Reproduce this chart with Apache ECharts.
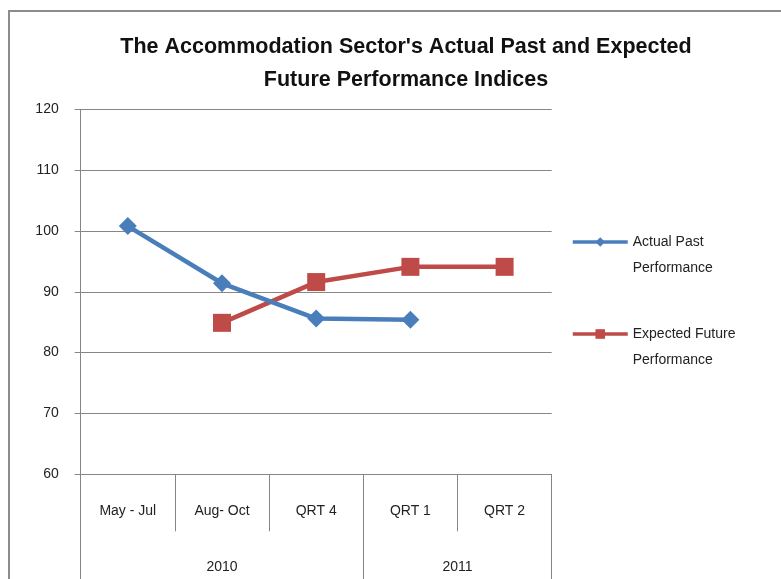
<!DOCTYPE html>
<html>
<head>
<meta charset="utf-8">
<script src="https://cdn.jsdelivr.net/npm/echarts@6/dist/echarts.min.js"></script>
<style>
  html, body { margin: 0; padding: 0; background: #fff; }
  #main { width: 781px; height: 579px; }
</style>
</head>
<body>
<div id="main"></div>
<script>
// categories and year groups
var categories = ['May - Jul', 'Aug- Oct', 'QRT 4', 'QRT 1', 'QRT 2'];
var years = ['2010', '2011'];
var yearSpans = [3, 2];

// series values (null = no point)
var actualPast = [100.8, 91.4, 85.6, 85.4, null];
var expectedFuture = [null, 84.9, 91.6, 94.1, 94.1];

// y axis ticks
var yMin = 60, yMax = 120, yStep = 10;

var seriesNames = ['Actual Past Performance', 'Expected Future Performance'];

// group boundaries and centres from spans
var yearBounds = [0];
var yearCentres = [];
yearSpans.forEach(function (s, i) {
  var start = yearBounds[i];
  yearBounds.push(start + s);
  yearCentres.push(start + s / 2);
});

var font = "'Liberation Sans', 'DejaVu Sans', sans-serif";
var axisGray = '#868686';

var myChart = echarts.init(document.getElementById('main'));
var option = {
  animation: false,
  backgroundColor: '#fff',
  graphic: [{
    type: 'rect',
    shape: { x: 9, y: 11, width: 790, height: 600 },
    style: { fill: 'none', stroke: '#8c8c8c', lineWidth: 2 },
    silent: true
  }],
  title: {
    text: "The Accommodation Sector's Actual Past and Expected\nFuture Performance Indices",
    left: 401,
    top: 26,
    textAlign: 'center',
    textStyle: {
      fontFamily: font,
      fontSize: 21.5,
      fontWeight: 'bold',
      color: '#111',
      lineHeight: 33
    }
  },
  legend: {
    orient: 'vertical',
    left: 566,
    top: 198,
    itemWidth: 55,
    itemHeight: 12,
    itemGap: 14,
    data: seriesNames,
    // blank first line keeps the icon beside the first text line
    formatter: function (name) {
      return ' \n' + name.replace(/ (\S+)$/, '\n$1');
    },
    lineStyle: { width: 3.5 },
    textStyle: {
      fontFamily: font,
      fontSize: 14,
      color: '#222',
      lineHeight: 26
    }
  },
  grid: {
    left: 80.7,
    top: 109.3,
    right: 229.3,
    bottom: 104.7,
    containLabel: false
  },
  xAxis: [{
    type: 'category',
    data: categories,
    boundaryGap: true,
    axisLine: { lineStyle: { color: axisGray, width: 1 } },
    axisTick: { show: true, interval: 0, length: 57, lineStyle: { color: axisGray } },
    axisLabel: {
      interval: 0,
      margin: 30,
      fontFamily: font,
      fontSize: 14,
      color: '#222'
    }
  }, {
    type: 'value',
    position: 'bottom',
    min: 0,
    max: categories.length,
    axisLine: { show: false },
    splitLine: { show: false },
    axisTick: {
      show: true,
      customValues: yearBounds,
      length: 110,
      lineStyle: { color: axisGray }
    },
    axisLabel: {
      customValues: yearCentres,
      margin: 86,
      fontFamily: font,
      fontSize: 14,
      color: '#222',
      formatter: function (v) {
        var i = yearCentres.indexOf(v);
        return i >= 0 ? years[i] : '';
      }
    }
  }],
  yAxis: {
    type: 'value',
    min: yMin,
    max: yMax,
    interval: yStep,
    axisLine: { show: true, lineStyle: { color: axisGray, width: 1 } },
    axisTick: { show: true, length: 6, lineStyle: { color: axisGray } },
    splitLine: { lineStyle: { color: axisGray, width: 1 } },
    axisLabel: {
      margin: 22,
      fontFamily: font,
      fontSize: 14,
      color: '#222'
    }
  },
  series: [{
    name: seriesNames[0],
    type: 'line',
    data: actualPast,
    color: '#4a7ebb',
    symbol: 'diamond',
    symbolSize: 18,
    lineStyle: { width: 4.5 },
    z: 3
  }, {
    name: seriesNames[1],
    type: 'line',
    data: expectedFuture,
    color: '#be4b48',
    symbol: 'rect',
    symbolSize: 18,
    lineStyle: { width: 4.5 },
    z: 2
  }]
};

option && myChart.setOption(option);
window.addEventListener('resize', function () {
  myChart.resize();
});
</script>
</body>
</html>
